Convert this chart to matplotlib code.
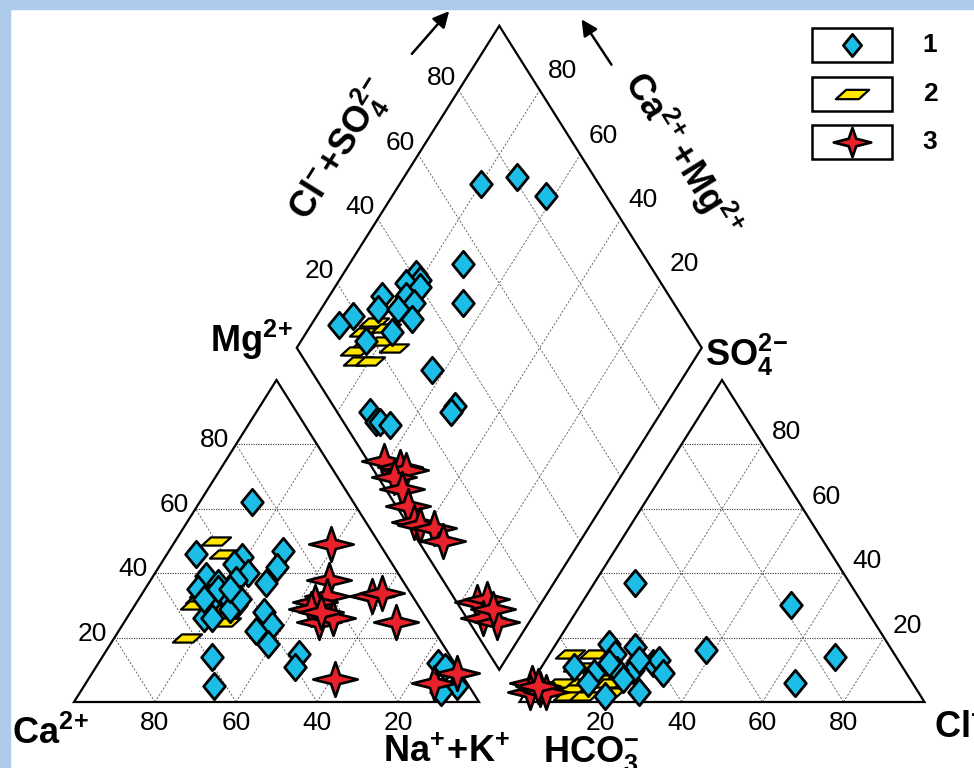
import numpy as np
import matplotlib.pyplot as plt
from matplotlib.path import Path
from matplotlib.patches import Rectangle, Polygon

plt.rcParams['font.family'] = ['Liberation Sans', 'DejaVu Sans']
plt.rcParams['mathtext.fontset'] = 'custom'
plt.rcParams['mathtext.rm'] = 'Liberation Sans'
plt.rcParams['mathtext.bf'] = 'Liberation Sans:bold'
plt.rcParams['mathtext.it'] = 'Liberation Sans:italic'

# ---------- data (percent) ----------
# cation triangle: Ca2+ and Mg2+ (Na+ + K+ is the rest)
cat1_ca = [25, 47, 36, 25, 39, 29, 48, 37, 41, 46, 34, 52, 46, 51, 45, 47, 55, 53,
           39, 39, 44, 43, 37, 40, 59, 63, 4, 3, 3, 8, 47, 43, 52, 44]
cat1_mg = [62, 46, 45, 47, 43, 42, 39, 40, 38, 37, 37, 35, 33, 31, 30, 29, 26, 26,
           28, 24, 22, 18, 15, 11, 14, 5, 12, 11, 5, 3, 35, 32, 32, 35]
cat2_ca = [40, 40, 48, 51, 53, 55, 50, 62, 51]
cat2_mg = [50, 46, 36, 34, 32, 30, 25, 20, 29]
cat3_ca = [12, 18, 21, 25, 27, 27, 23, 10, 7, 8, 32, 8, 1, 25]
cat3_mg = [49, 38, 33, 31, 29, 25, 26, 33, 34, 25, 7, 6, 9, 28]

# anion triangle: SO4 2- and Cl- (HCO3- is the rest)
an1_so4 = [37, 30, 16, 14, 6, 18, 15, 17, 12, 10, 10, 7, 12, 13, 9, 11, 9, 6, 2, 3, 13, 12]
an1_cl = [10, 52, 38, 71, 65, 13, 16, 20, 23, 23, 19, 22, 27, 28, 31, 8, 14, 14, 20, 28, 23, 16]
an2_so4 = [15, 15, 11, 6, 7, 6, 4, 3, 2, 2, 6]
an2_cl = [5, 11, 9, 11, 16, 19, 11, 21, 11, 15, 7]
an3_so4 = [6, 3, 4, 3, 5]
an3_cl = [0, 1, 3, 5, 2]

# diamond: Ca2+ + Mg2+ and Cl- + SO4 2-
dm1_camg = [80, 72, 62, 72, 66, 63, 82, 80, 83, 79, 81, 78, 87, 86, 81, 76, 91, 93,
            79, 84, 72, 69, 68, 65, 52, 52]
dm1_clso4 = [71, 81, 85, 54, 48, 30, 41, 41, 37, 40, 35, 36, 29, 26, 31, 33, 19, 14,
             26, 18, 8, 8, 9, 11, 30, 28]
dm2_camg = [86, 85, 81, 76, 84, 85, 83, 80, 80]
dm2_clso4 = [19, 23, 25, 24, 16, 14, 13, 16, 22]
dm3_camg = [61, 56, 54, 56, 52, 48, 44, 42, 38, 34, 16, 14, 12, 8, 11]
dm3_clso4 = [4, 7, 8, 4, 4, 3, 2, 3, 6, 6, 5, 8, 4, 7, 8]

ticks = [20, 40, 60, 80]
group_names = ['1', '2', '3']

# ---------- geometry ----------
H = np.sqrt(3) / 2
GAP = 0.1


def cation_xy(ca, mg):
    ca = np.asarray(ca) / 100.0
    mg = np.asarray(mg) / 100.0
    na = 1 - ca - mg
    return na + mg / 2, mg * H


def anion_xy(so4, cl):
    so4 = np.asarray(so4) / 100.0
    cl = np.asarray(cl) / 100.0
    return 1 + GAP + cl + so4 / 2, so4 * H


def diamond_xy(camg, clso4):
    n = 1 - np.asarray(camg) / 100.0
    b = 1 - np.asarray(clso4) / 100.0
    return (n + 2 + GAP - b) / 2, H * (2 + GAP - b - n)


def P(px, py):
    # picture pixel -> data coords (for layout only)
    return (px - 74) / 405.0, (702 - py) * H / 322.0


# ---------- markers ----------
diam = Path([(0, 1), (0.82, 0), (0, -1), (-0.82, 0), (0, 1)],
            [1, 2, 2, 2, 79])
para = Path([(-1, -0.28), (0.38, -0.28), (1, 0.28), (-0.38, 0.28), (-1, -0.28)],
            [1, 2, 2, 2, 79])
r = 0.2
sv = [(1, 0), (r, r), (0, 0.78), (-r, r), (-1, 0),
      (-r, -r), (0, -0.78), (r, -r), (1, 0)]
star = Path(sv, [1] + [2] * 7 + [79])

styles = {
    '1': dict(marker=diam, ms=19, mfc='#1cbde6', mec='k', mew=2.0, zorder=5),
    '2': dict(marker=para, ms=21, mfc='#ffe600', mec='k', mew=1.6, zorder=4),
    '3': dict(marker=star, ms=32, mfc='#e8212b', mec='k', mew=1.9, zorder=6),
}

fig = plt.figure(figsize=(9.74, 7.68), dpi=100)
ax = fig.add_axes([0, 0, 1, 1])
ax.set_xlim(-74 / 405.0, 900 / 405.0)
ax.set_ylim(-66 * H / 322.0, 702 * H / 322.0)
ax.axis('off')

# light blue frame
fig.patches.append(Rectangle((0, 0), 10 / 974, 1, transform=fig.transFigure,
                             color='#aecbec', zorder=0))
fig.patches.append(Rectangle((0, 1 - 9 / 768), 1, 9 / 768, transform=fig.transFigure,
                             color='#aecbec', zorder=0))

hdot = dict(color='#333333', lw=0.8, ls=(0, (1, 1.2)), zorder=1)
sdash = dict(color='#555555', lw=0.6, ls=(0, (2.5, 2)), zorder=1)

# ---------- grids ----------
for t in ticks:
    f = t / 100.0
    # cation
    ax.plot([f / 2, 1 - f / 2], [f * H, f * H], **hdot)
    ax.plot([f, f + (1 - f) / 2], [0, (1 - f) * H], **sdash)
    ax.plot([f, f / 2], [0, f * H], **sdash)
    # anion
    o = 1 + GAP
    ax.plot([o + f / 2, o + 1 - f / 2], [f * H, f * H], **hdot)
    ax.plot([o + f, o + f + (1 - f) / 2], [0, (1 - f) * H], **sdash)
    ax.plot([o + f, o + f / 2], [0, f * H], **sdash)
    # diamond
    x1, y1 = diamond_xy([t, t], [0, 100])
    ax.plot(x1, y1, **sdash)
    x2, y2 = diamond_xy([0, 100], [t, t])
    ax.plot(x2, y2, **sdash)

# ---------- outlines ----------
edge = dict(fill=False, ec='k', lw=1.6, zorder=2, joinstyle='miter')
ax.add_patch(Polygon([(0, 0), (1, 0), (0.5, H)], **edge))
ax.add_patch(Polygon([(1 + GAP, 0), (2 + GAP, 0), (1.5 + GAP, H)], **edge))
dx, dy = diamond_xy([0, 100, 100, 0], [0, 0, 100, 100])
ax.add_patch(Polygon(list(zip(dx, dy)), **edge))

# ---------- points ----------
cat = {'1': (cat1_ca, cat1_mg), '2': (cat2_ca, cat2_mg), '3': (cat3_ca, cat3_mg)}
an = {'1': (an1_so4, an1_cl), '2': (an2_so4, an2_cl), '3': (an3_so4, an3_cl)}
dm = {'1': (dm1_camg, dm1_clso4), '2': (dm2_camg, dm2_clso4), '3': (dm3_camg, dm3_clso4)}
for g in ['2', '1', '3']:
    st = styles[g]
    ax.plot(*cation_xy(*cat[g]), ls='none', **st)
    ax.plot(*anion_xy(*an[g]), ls='none', **st)
    ax.plot(*diamond_xy(*dm[g]), ls='none', **st)

# ---------- tick labels ----------
tk = dict(fontsize=19, textcoords='offset pixels', zorder=7)
for t in ticks:
    ax.annotate(str(t), cation_xy(100 - t, t), xytext=(-7, 4), ha='right', va='center', **tk)
    ax.annotate(str(t), cation_xy(t, 0), xytext=(0, -21), ha='center', va='center', **tk)
    ax.annotate(str(t), anion_xy(0, t), xytext=(0, -21), ha='center', va='center', **tk)
    ax.annotate(str(t), anion_xy(t, 100 - t), xytext=(9, 12), ha='left', va='center', **tk)
    ax.annotate(str(t), diamond_xy(100, t), xytext=(-3, 12), ha='right', va='center', **tk)
    ax.annotate(str(t), diamond_xy(t, 100), xytext=(8, 19), ha='left', va='center', **tk)

# ---------- axis names ----------
lb = dict(fontsize=26, zorder=7, va='baseline', ha='left')
ax.text(*P(12, 744), r'$\mathbf{Ca^{2\!+}}$', **lb)
ax.text(*P(383, 762), r'$\mathbf{Na^{+}\!+\!K^{+}}$', **lb)
ax.text(*P(543, 762), r'$\mathbf{HCO_3^{-}}$', **lb)
ax.text(*P(934, 737), r'$\mathbf{Cl^{-}}$', **lb)
ax.text(*P(210, 352), r'$\mathbf{Mg^{2\!+}}$', **lb)
ax.text(*P(705, 366), r'$\mathbf{SO_4^{2\!-}}$', **lb)
ax.text(*P(340, 150), r'$\mathbf{Cl^{-}\!+\!SO_4^{2\!-}}$', fontsize=26, rotation=58,
        rotation_mode='anchor', ha='center', va='center', zorder=7)
ax.text(*P(682, 155), r'$\mathbf{Ca^{2\!+}\!+\!Mg^{2\!+}}$', fontsize=26, rotation=-58,
        rotation_mode='anchor', ha='center', va='center', zorder=7)

arr = dict(arrowstyle='-|>', color='k', lw=1.8, mutation_scale=24)
ax.annotate('', xy=P(451, 9), xytext=P(410, 56), arrowprops=arr)
ax.annotate('', xy=P(580, 17), xytext=P(613, 67), arrowprops=arr)

# ---------- legend ----------
box_top = [28, 77, 125]
for g, top in zip(group_names, box_top):
    x0, y0 = P(812, top + 34)
    x1, y1 = P(892, top)
    ax.add_patch(Rectangle((x0, y0), x1 - x0, y1 - y0, fill=True, fc='white',
                           ec='k', lw=1.8, zorder=7))
    st = dict(styles[g])
    st['zorder'] = 8
    if g == '1':
        st['ms'] = 16
    if g == '2':
        st['ms'] = 24
    if g == '3':
        st['ms'] = 27
    ax.plot([(x0 + x1) / 2], [(y0 + y1) / 2], ls='none', **st)
    ax.text(*P(930, top + 17), g, fontsize=19, fontweight='bold', ha='center',
            va='center', zorder=8)

fig.savefig('out.png', dpi=100, facecolor='white')
